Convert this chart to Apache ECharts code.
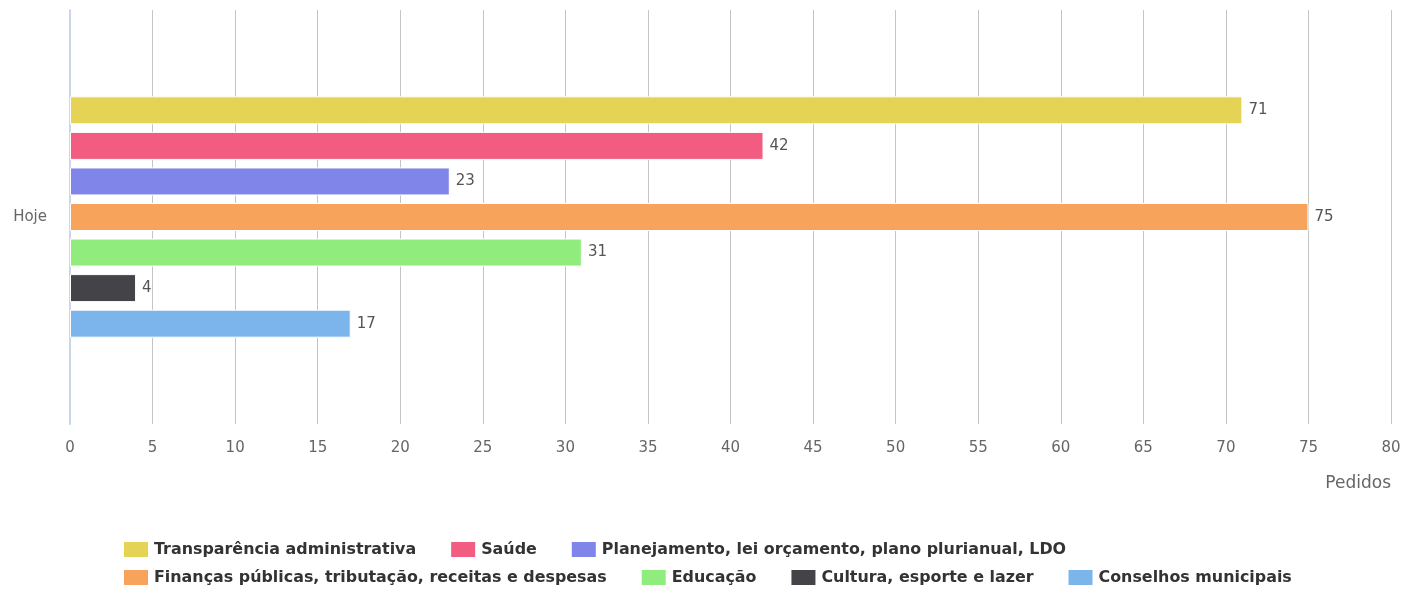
<!DOCTYPE html>
<html>
<head>
<meta charset="utf-8">
<script src="https://cdn.jsdelivr.net/npm/echarts@6/dist/echarts.min.js"></script>
<style>
  html, body { margin: 0; padding: 0; background: #fff; }
  #chart { width: 1406px; height: 590px; }
</style>
</head>
<body>
<div id="chart"></div>
<script>
  // dados do gráfico
  var categories = ['Hoje'];
  var seriesNames = [
    'Transparência administrativa',
    'Saúde',
    'Planejamento, lei orçamento, plano plurianual, LDO',
    'Finanças públicas, tributação, receitas e despesas',
    'Educação',
    'Cultura, esporte e lazer',
    'Conselhos municipais'
  ];
  var seriesValues = [71, 42, 23, 75, 31, 4, 17];
  var colors = ['#e4d354', '#f15c80', '#8085e9', '#f7a35c', '#90ed7d', '#434348', '#7cb5ec'];
  var xTicks = [0, 80, 5];

  var chart = echarts.init(document.getElementById('chart'));
  var font = 'DejaVu Sans, Verdana, sans-serif';

  var series = seriesNames.map(function (name, i) {
    return {
      name: name,
      type: 'bar',
      data: [seriesValues[i]],
      barWidth: 28,
      barGap: '27%',
      itemStyle: { color: colors[i], borderColor: '#fff', borderWidth: 1 },
      label: {
        show: true,
        position: 'right',
        distance: 6,
        color: '#555',
        fontSize: 15,
        fontFamily: font
      }
    };
  });

  // legenda em duas linhas, alinhadas à esquerda
  function makeLegend(names, top) {
    return {
      top: top,
      left: 117,
      itemWidth: 26,
      itemHeight: 17,
      itemGap: 33,
      icon: 'rect',
      textStyle: { color: '#333', fontSize: 15.9, fontWeight: 'bold', fontFamily: font },
      data: names
    };
  }

  var option = {
    animation: false,
    grid: { left: 70, right: 15, top: 10, bottom: 166 },
    legend: [
      makeLegend(seriesNames.slice(0, 3), 535),
      makeLegend(seriesNames.slice(3), 563)
    ],
    xAxis: {
      type: 'value',
      min: xTicks[0],
      max: xTicks[1],
      interval: xTicks[2],
      name: 'Pedidos',
      nameLocation: 'end',
      nameGap: 0,
      nameTextStyle: {
        color: '#666', fontSize: 17, fontFamily: font,
        align: 'right', verticalAlign: 'top', padding: [51, 0, 0, 0]
      },
      axisLine: { show: false },
      axisTick: { show: false },
      axisLabel: { color: '#666', fontSize: 15, fontFamily: font, margin: 17 },
      splitLine: { lineStyle: { color: '#c4c4c4', width: 1 } }
    },
    yAxis: {
      type: 'category',
      inverse: true,
      data: categories,
      axisLine: { show: true, lineStyle: { color: '#ccd6eb', width: 2 } },
      axisTick: { show: false },
      axisLabel: { color: '#666', fontSize: 15, fontFamily: font, margin: 23 }
    },
    series: series
  };

  chart.setOption(option);
</script>
</body>
</html>
